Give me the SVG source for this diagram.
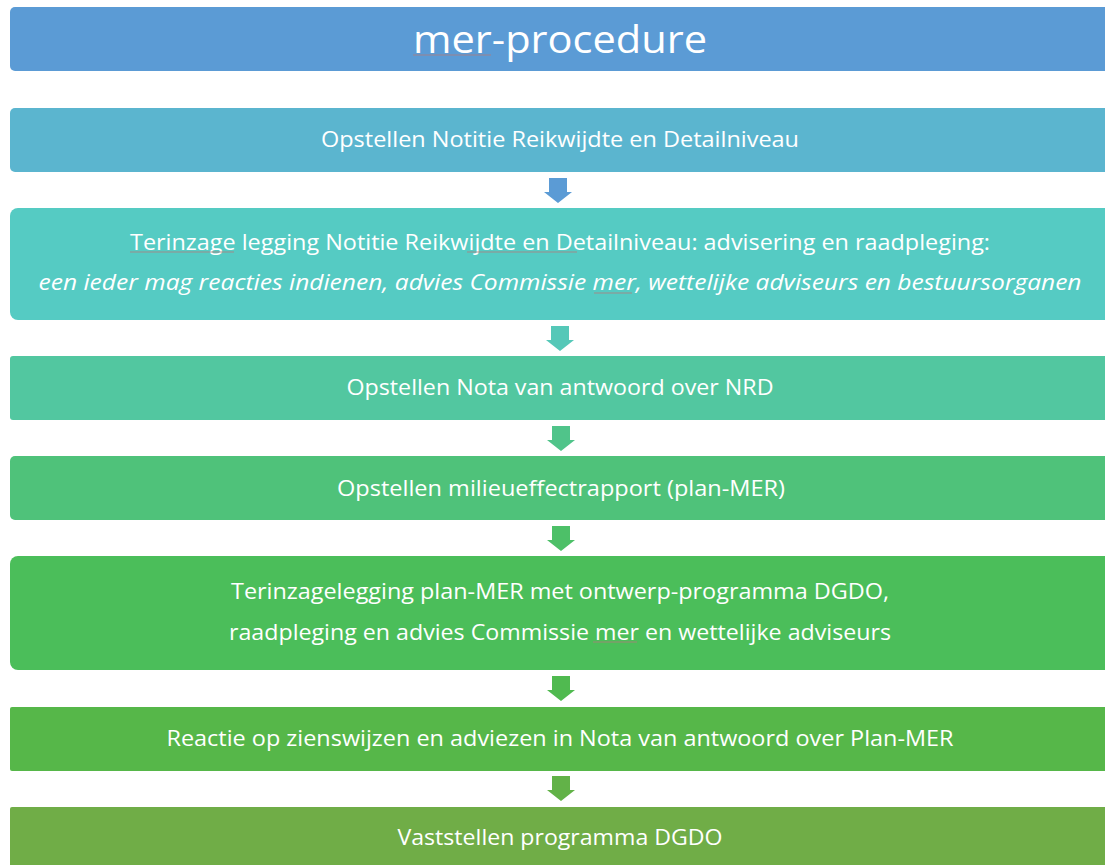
<svg xmlns="http://www.w3.org/2000/svg" width="1105" height="865" viewBox="0 0 1105 865">
<style>
.t{font-family:"Open Sans","Noto Sans","Liberation Sans",sans-serif;fill:#fff;text-anchor:middle;font-size:22px}
.h{font-size:39px}
.it{font-style:italic}
.sq{stroke:#b07a7a;stroke-width:1;fill:none;opacity:0.8}
</style>
<defs>
<path id="arr" d="M-9,0 H9 V14 H14 L0,25 L-14,14 H-9 Z"/>
</defs>
<rect width="1105" height="865" fill="#fff"/>
<g id="title">
<rect x="10" y="7" width="1110" height="64" rx="5" fill="#5B9BD5"/>
<text class="t h" x="560" y="53" textLength="294" lengthAdjust="spacingAndGlyphs">mer-procedure</text>
<path class="sq" d="M413,55 H491" stroke="#c06070"/>
</g>
<g id="n1">
<rect x="10" y="108" width="1110" height="64" rx="5" fill="#5BB5CF"/>
<text class="t" x="560" y="147" textLength="478" lengthAdjust="spacingAndGlyphs">Opstellen Notitie Reikwijdte en Detailniveau</text>
</g>
<g id="n2">
<rect x="10" y="208" width="1110" height="112" rx="8" fill="#55CBC3"/>
<text class="t" x="560" y="250" textLength="860" lengthAdjust="spacingAndGlyphs">Terinzage legging Notitie Reikwijdte en Detailniveau: advisering en raadpleging:</text>
<text class="t it" x="560" y="290" textLength="1043" lengthAdjust="spacingAndGlyphs">een ieder mag reacties indienen, advies Commissie mer, wettelijke adviseurs en bestuursorganen</text>
<path class="sq" d="M130,252 H234 M467,252 H577 M594,293 H632"/>
</g>
<g id="n3">
<rect x="10" y="356" width="1110" height="64" rx="3" fill="#52C7A0"/>
<text class="t" x="560" y="395" textLength="427" lengthAdjust="spacingAndGlyphs">Opstellen Nota van antwoord over NRD</text>
</g>
<g id="n4">
<rect x="10" y="456" width="1110" height="64" rx="5" fill="#4FC27A"/>
<text class="t" x="561" y="496" textLength="448" lengthAdjust="spacingAndGlyphs">Opstellen milieueffectrapport (plan-MER)</text>
</g>
<g id="n5">
<rect x="10" y="556" width="1110" height="114" rx="8" fill="#4BBE5A"/>
<text class="t" x="560" y="599" textLength="658" lengthAdjust="spacingAndGlyphs">Terinzagelegging plan-MER met ontwerp-programma DGDO,</text>
<text class="t" x="560" y="640" textLength="662" lengthAdjust="spacingAndGlyphs">raadpleging en advies Commissie mer en wettelijke adviseurs</text>
<path class="sq" d="M593,642 H637"/>
</g>
<g id="n6">
<rect x="10" y="707" width="1110" height="64" rx="2" fill="#56B749"/>
<text class="t" x="560" y="746" textLength="787" lengthAdjust="spacingAndGlyphs">Reactie op zienswijzen en adviezen in Nota van antwoord over Plan-MER</text>
</g>
<g id="n7">
<rect x="10" y="807" width="1110" height="70" rx="2" fill="#70AD47"/>
<text class="t" x="560" y="845" textLength="325" lengthAdjust="spacingAndGlyphs">Vaststellen programma DGDO</text>
</g>
<g id="connectors">
<use href="#arr" x="558" y="178" fill="#5B9BD5"/>
<use href="#arr" x="560" y="326" fill="#55C8B8"/>
<use href="#arr" x="561" y="426" fill="#50C48A"/>
<use href="#arr" x="561" y="526" fill="#4DC068"/>
<use href="#arr" x="561" y="676" fill="#50BA50"/>
<use href="#arr" x="561" y="776" fill="#62B248"/>
</g>
</svg>
